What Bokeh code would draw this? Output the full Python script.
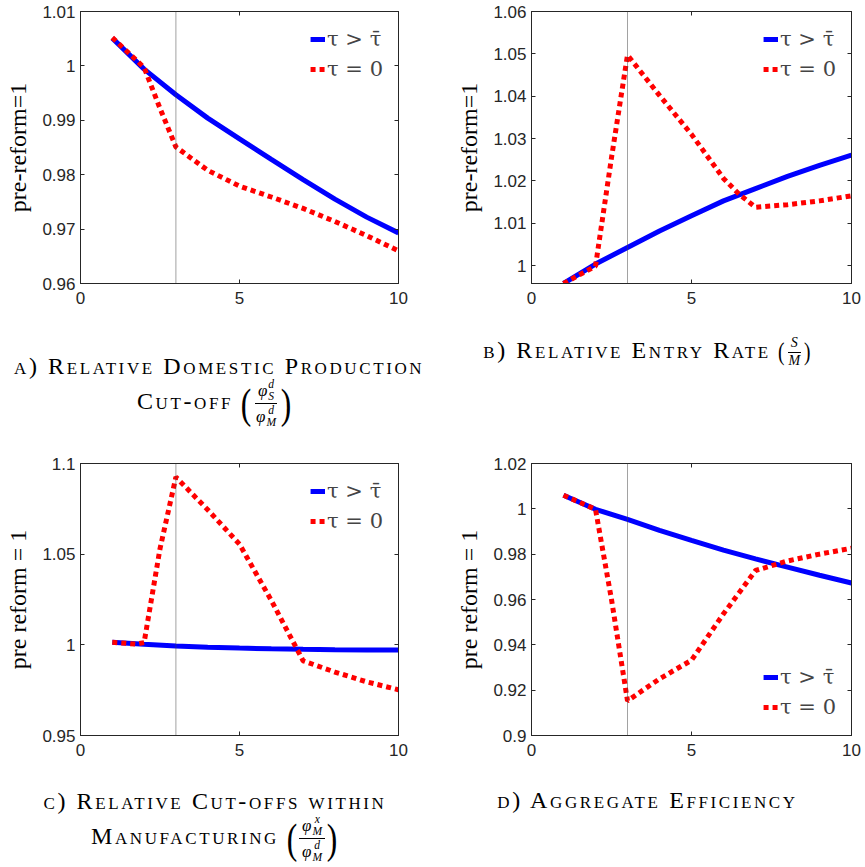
from bokeh.plotting import figure
from bokeh.models import (Span, Legend, LegendItem, LinearAxis, FixedTicker, Range1d, Div,
                          CustomLabelingPolicy)
from bokeh.layouts import column, row
from bokeh.embed import file_html
from bokeh.resources import INLINE

# ---------------- data ----------------
X_RANGE = (0, 10)
X_TICKS = [0, 5, 10]
THRESHOLD = 3
X_BLUE = [1, 2, 3, 4, 5, 6, 7, 8, 9, 10]

# a) relative domestic production cut-off
A_BLUE = [1.0051, 0.9994, 0.9947, 0.9904, 0.9866, 0.9828, 0.9791, 0.9755, 0.9722, 0.9693]
A_RED_X = [1, 2, 2.5, 3, 4, 5, 6, 7, 8, 9, 10]
A_RED = [1.0052, 0.9997, 0.9922, 0.9851, 0.9808, 0.9779, 0.9759, 0.9738, 0.9714, 0.9688, 0.9660]
A_YTICKS = [0.96, 0.97, 0.98, 0.99, 1.0, 1.01]
A_YRANGE = (0.96, 1.01)

# b) relative entry rate
B_BLUE = [0.9958, 1.0004, 1.0043, 1.0082, 1.0118, 1.0153, 1.0182, 1.0211, 1.0237, 1.0261]
B_RED_X = [1, 2, 2.5, 3, 4, 5, 6, 6.5, 7, 8, 9, 10]
B_RED = [0.9958, 0.9999, 1.0255, 1.0497, 1.0402, 1.0310, 1.0206, 1.0168, 1.0138, 1.0144, 1.0153, 1.0165]
B_YTICKS = [1.0, 1.01, 1.02, 1.03, 1.04, 1.05, 1.06]
B_YRANGE = (0.9958, 1.06)

# c) relative cut-offs within manufacturing
C_BLUE = [1.0014, 1.0003, 0.9994, 0.9987, 0.9982, 0.9978, 0.9975, 0.9973, 0.9972, 0.9971]
C_RED_X = [1, 1.75, 2, 2.5, 3, 4, 5, 6, 7, 8, 9, 10]
C_RED = [1.0014, 1.0004, 1.0012, 1.0530, 1.0925, 1.0745, 1.0555, 1.0245, 0.9912, 0.9850, 0.9796, 0.9752]
C_YTICKS = [0.95, 1.0, 1.05, 1.1]
C_YRANGE = (0.95, 1.1)

# d) aggregate efficiency
D_BLUE = [1.0060, 0.9998, 0.9953, 0.9905, 0.9861, 0.9818, 0.9779, 0.9743, 0.9707, 0.9673]
D_RED_X = [1, 2, 2.5, 3, 4, 5, 6, 7, 8, 9, 10]
D_RED = [1.0060, 0.9998, 0.9600, 0.9153, 0.9250, 0.9332, 0.9537, 0.9728, 0.9770, 0.9800, 0.9826]
D_YTICKS = [0.9, 0.92, 0.94, 0.96, 0.98, 1.0, 1.02]
D_YRANGE = (0.9, 1.02)

LEGEND_LABELS = ["\u03c4 > \u03c4\u0304", "\u03c4 = 0"]
YLABEL_AB = "pre-reform=1"
YLABEL_CD = "pre reform = 1"

# ---------------- style ----------------
AX = "#262626"
BLUE = "#0000FF"
RED = "#FF0000"
TICK_FONT = "Liberation Sans"
SERIF = "Liberation Serif"
LEGEND_FONT = "DejaVu Serif"

NO_LABELS = CustomLabelingPolicy(code="for (const i of Array.from(indices)) { indices.unset(i) } return indices")


def style_axis(ax, ticks, labels=True):
    ax.ticker = FixedTicker(ticks=ticks)
    ax.axis_line_color = AX
    ax.major_tick_line_color = AX
    ax.major_tick_in = 4
    ax.major_tick_out = 0
    ax.minor_tick_line_color = None
    if labels:
        ax.major_label_overrides = {t: f"{t:g}" for t in ticks}
        ax.major_label_text_font = TICK_FONT
        ax.major_label_text_font_size = "17px"
        ax.major_label_text_color = AX
    else:
        ax.major_label_policy = NO_LABELS
        ax.major_label_text_font_size = "1px"
        ax.major_label_standoff = 0


def panel(blue, red_x, red, yticks, yrange, ylabel, legend_loc, width, left, right):
    p = figure(width=width, height=318, x_range=Range1d(*X_RANGE), y_range=Range1d(*yrange),
               output_backend="svg", toolbar_location=None,
               min_border_left=left, min_border_right=right, min_border_top=11, min_border_bottom=35,
               outline_line_color=AX, background_fill_color="white", border_fill_color="white")
    p.grid.visible = False
    style_axis(p.xaxis[0], X_TICKS)
    p.xaxis.major_label_standoff = 8
    style_axis(p.yaxis[0], yticks)
    p.yaxis.major_label_standoff = 5
    p.yaxis.axis_label = ylabel
    p.yaxis.axis_label_text_font = SERIF
    p.yaxis.axis_label_text_font_size = "24px"
    p.yaxis.axis_label_text_font_style = "normal"
    p.yaxis.axis_label_text_color = "black"
    p.yaxis.axis_label_standoff = 8

    top = LinearAxis()
    style_axis(top, X_TICKS, labels=False)
    p.add_layout(top, "above")
    rt = LinearAxis()
    style_axis(rt, yticks, labels=False)
    p.add_layout(rt, "right")

    p.add_layout(Span(location=THRESHOLD, dimension="height", line_color="#444444",
                      line_width=1, line_dash="1 1"))

    rb = p.line(X_BLUE, blue, line_color=BLUE, line_width=5)
    rr = p.line(red_x, red, line_color=RED, line_width=5, line_dash="5 4")

    leg = Legend(items=[LegendItem(label=LEGEND_LABELS[0], renderers=[rb]),
                        LegendItem(label=LEGEND_LABELS[1], renderers=[rr])],
                 location=legend_loc, border_line_color=None, background_fill_alpha=0,
                 label_text_font=LEGEND_FONT, label_text_font_size="21px",
                 glyph_width=15, glyph_height=20, label_standoff=2, spacing=4,
                 padding=2, margin=15, label_height=26)
    p.add_layout(leg)
    return p


def pfrac(num, den, fs=17, paren=42):
    return ('<span style="display:inline-flex;align-items:center;vertical-align:middle;letter-spacing:0">'
            f'<span style="font-size:{paren}px;line-height:1;transform:scaleX(0.75)">(</span>'
            f'<span style="display:inline-flex;flex-direction:column;align-items:center;font-size:{fs}px;line-height:1.05">'
            f'<span style="border-bottom:1px solid #000;padding:0 3px 1px">{num}</span>'
            f'<span style="padding:1px 3px 0">{den}</span></span>'
            f'<span style="font-size:{paren}px;line-height:1;transform:scaleX(0.75)">)</span></span>')


def phi(sup, sub):
    return ('<span style="display:inline-flex;align-items:center"><i>\u03c6</i>'
            '<span style="display:inline-flex;flex-direction:column;font-size:0.68em;'
            f'line-height:1.0;margin-left:1px"><i>{sup}</i><i>{sub}</i></span></span>')


def sc(s):
    return f'<span style="font-variant:small-caps;letter-spacing:2.6px">{s}</span>'


def caption(html, width, height, pad_top, pad_left, lh=30):
    return Div(text=(f'<div style="font-family:\'Liberation Serif\',serif;font-size:24px;color:#000;'
                     f'text-align:center;line-height:{lh}px;width:{width - pad_left}px;'
                     f'padding-top:{pad_top}px;padding-left:{pad_left}px;white-space:nowrap">{html}</div>'),
               width=width, height=height, margin=0)


fa = panel(A_BLUE, A_RED_X, A_RED, A_YTICKS, A_YRANGE, YLABEL_AB, "top_right", 430, 80, 32)
fb = panel(B_BLUE, B_RED_X, B_RED, B_YTICKS, B_YRANGE, YLABEL_AB, "top_right", 435, 101, 14)
fc = panel(C_BLUE, C_RED_X, C_RED, C_YTICKS, C_YRANGE, YLABEL_CD, "top_right", 430, 80, 32)
fd = panel(D_BLUE, D_RED_X, D_RED, D_YTICKS, D_YRANGE, YLABEL_CD, "bottom_right", 435, 101, 14)

cap_a = caption(sc("a) Relative Domestic Production") + "<br>" + sc("Cut-off") + "&nbsp;"
                + pfrac(phi("d", "S"), phi("d", "M")), 430, 134, 35, 14, lh=26)
cap_b = caption(sc("b) Relative Entry Rate") + "&nbsp;"
                + pfrac("<i>S</i>", "<i>M</i>", fs=14, paren=26), 435, 134, 17, 36)
cap_c = caption(sc("c) Relative Cut-offs within") + "<br>" + sc("Manufacturing") + "&nbsp;"
                + pfrac(phi("x", "M"), phi("d", "M")), 430, 97, 18, 6, lh=26)
cap_d = caption(sc("d) Aggregate Efficiency"), 435, 97, 15, 36)

layout = column(row(fa, fb), row(cap_a, cap_b), row(fc, fd), row(cap_c, cap_d))

open("out.html", "w").write(file_html(layout, INLINE))
